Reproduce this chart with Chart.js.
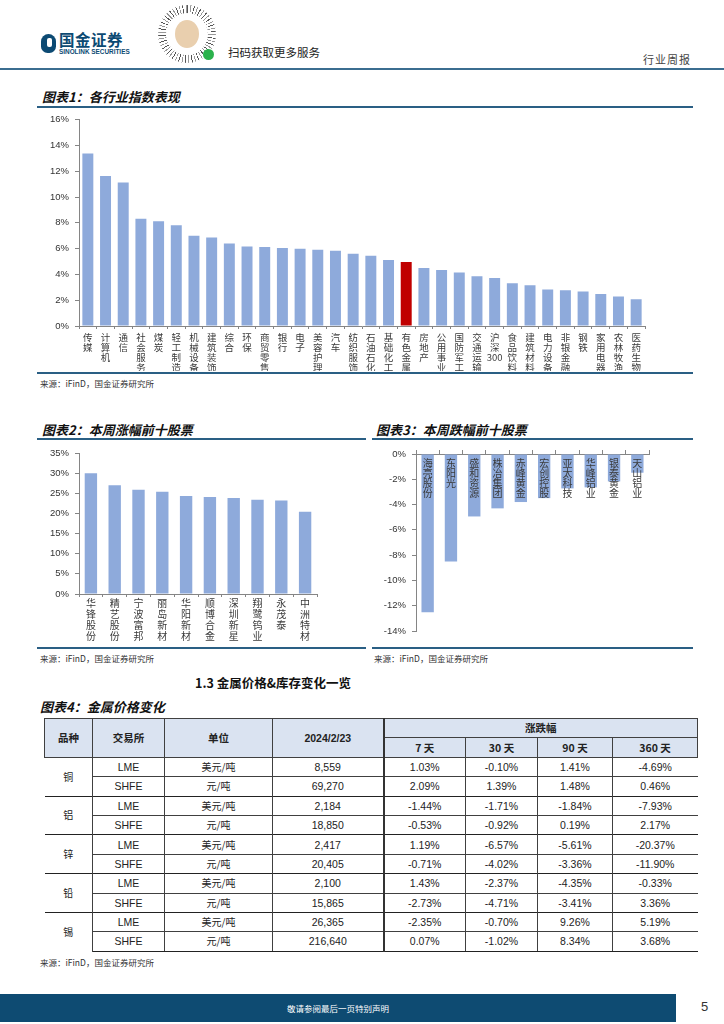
<!DOCTYPE html>
<html>
<head>
<meta charset="utf-8">
<script src="https://cdn.jsdelivr.net/npm/chart.js@4.4.1/dist/chart.umd.min.js"></script>
<style>
  body { margin: 0; width: 724px; height: 1024px; position: relative; overflow: hidden; background: #fff;
         font-family: "Liberation Sans", "Noto Sans CJK SC", sans-serif; color: #222; }
  .abs { position: absolute; }
  .title { position: absolute; font-family: "Noto Sans CJK SC", sans-serif; font-size: 13px; line-height: 14px;
           font-weight: bold; font-style: italic; color: #111; white-space: nowrap; }
  .rule { position: absolute; height: 2px; background: #2a5f84; }
  .src { position: absolute; font-family: "Noto Sans CJK SC", sans-serif; font-size: 8.5px; line-height: 10px; color: #333; white-space: nowrap; }
  canvas { position: absolute; }
  table { position: absolute; left: 44px; top: 718px; border-collapse: collapse; table-layout: fixed; }
  td { padding: 0; height: 18.4px; line-height: 12px; text-align: center; font-size: 10.5px; color: #222; white-space: nowrap;
       font-family: "Liberation Sans Narrow", "Liberation Sans", sans-serif; }
  td.cn { font-family: "Noto Sans CJK SC", sans-serif; font-size: 10px; }
  tr.h td { background: #dae3f1; font-weight: bold; border: 1px solid #404040; font-family: "Noto Sans CJK SC", sans-serif; font-size: 10.5px; }
  tr.h td.num { font-family: "Liberation Sans", sans-serif; }
  tr.d td { border-left: 1px solid #404040; border-right: 1px solid #404040; border-top: 1px solid #404040; }
  tr.d td:first-child { border-left: none; }
  tr.d td:last-child { border-right: none; }
  tr.g td { border-top: 1.6px solid #222; }
  tr.last td { border-bottom: 1.6px solid #222; }
  td.sep { border-right: 2px solid #333 !important; }
</style>
</head>
<body>

<!-- page header -->
<div class="abs" style="left:41px;top:34px;width:15px;height:19px;background:#0c4a73;border-radius:8px 8px 7px 7px;"></div>
<div class="abs" style="left:47px;top:38px;width:5px;height:9px;background:#fff;border-radius:2px;"></div>
<div class="abs" style="left:59px;top:31px;font-family:'Noto Sans CJK SC';font-weight:bold;font-size:15.5px;line-height:17px;color:#0c4a73;letter-spacing:0.5px;">国金证券</div>
<div class="abs" style="left:59px;top:48px;font-family:'Liberation Sans';font-weight:bold;font-size:6.4px;line-height:7px;color:#0c4a73;">SINOLINK SECURITIES</div>
<div class="abs" style="left:158px;top:5px;width:58px;height:58px;border-radius:50%;background:repeating-conic-gradient(#555 0deg 2deg,#fff 2deg 7deg,#999 7deg 9deg,#fff 9deg 14deg);"></div>
<div class="abs" style="left:166px;top:13px;width:42px;height:42px;border-radius:50%;background:#fff;"></div>
<div class="abs" style="left:175px;top:20px;width:24px;height:28px;border-radius:50%;background:#e9cfae;"></div>
<div class="abs" style="left:203px;top:49px;width:11px;height:11px;border-radius:50%;background:#2bb24c;"></div>
<div class="abs" style="left:228px;top:45px;font-family:'Noto Sans CJK SC';font-size:11.5px;line-height:14px;color:#222;">扫码获取更多服务</div>
<div class="abs" style="left:643px;top:52px;font-family:'Noto Sans CJK SC';font-size:11px;line-height:14px;color:#444;letter-spacing:1px;">行业周报</div>
<div class="abs" style="left:0;top:68px;width:724px;height:2px;background:#3b6d90;"></div>

<!-- figure 1 -->
<div class="title" style="left:42px;top:90px;">图表1：各行业指数表现</div>
<div class="rule" style="left:37px;top:105.5px;width:656px;"></div>
<canvas id="c1" width="656" height="263" style="left:37px;top:108px;"></canvas>
<div class="rule" style="left:37px;top:371.5px;width:656px;"></div>
<div class="src" style="left:40px;top:378px;">来源：iFinD，国金证券研究所</div>

<!-- figures 2 and 3 -->
<div class="title" style="left:42px;top:423px;">图表2：本周涨幅前十股票</div>
<div class="title" style="left:376px;top:423px;">图表3：本周跌幅前十股票</div>
<div class="rule" style="left:37px;top:438px;width:329px;"></div>
<div class="rule" style="left:372px;top:438px;width:321px;"></div>
<canvas id="c2" width="329" height="207" style="left:37px;top:440px;"></canvas>
<canvas id="c3" width="321" height="207" style="left:372px;top:440px;"></canvas>
<div class="rule" style="left:37px;top:647px;width:329px;"></div>
<div class="rule" style="left:372px;top:647px;width:321px;"></div>
<div class="src" style="left:40px;top:653px;">来源：iFinD，国金证券研究所</div>
<div class="src" style="left:374px;top:653px;">来源：iFinD，国金证券研究所</div>

<!-- section 1.3 and table -->
<div class="abs" style="left:195px;top:675px;font-family:'Noto Sans CJK SC';font-weight:bold;font-size:12.5px;line-height:16px;color:#111;">1.3 金属价格&amp;库存变化一览</div>
<div class="title" style="left:40px;top:700px;">图表4：金属价格变化</div>
<table id="tbl"></table>
<div class="src" style="left:40px;top:957px;">来源：iFinD，国金证券研究所</div>

<!-- footer -->
<div class="abs" style="left:0;top:994px;width:676px;height:28px;background:#0e4b72;"></div>
<div class="abs" style="left:0;top:1002px;width:676px;text-align:center;font-family:'Noto Sans CJK SC';font-size:8.5px;line-height:12px;color:#fff;">敬请参阅最后一页特别声明</div>
<div class="abs" style="left:701px;top:999px;font-family:'Liberation Sans';font-size:13px;line-height:16px;color:#333;">5</div>

<script>
// ---- figure 1: industry index performance (%)
const industryNames = ['传媒', '计算机', '通信', '社会服务', '煤炭', '轻工制造', '机械设备', '建筑装饰',
  '综合', '环保', '商贸零售', '银行', '电子', '美容护理', '汽车', '纺织服饰', '石油石化', '基础化工',
  '有色金属', '房地产', '公用事业', '国防军工', '交通运输', '沪深300', '食品饮料', '建筑材料',
  '电力设备', '非银金融', '钢铁', '家用电器', '农林牧渔', '医药生物'];
const industryValues = [13.38, 11.63, 11.13, 8.32, 8.12, 7.82, 6.99, 6.87,
  6.39, 6.17, 6.12, 6.04, 5.99, 5.91, 5.84, 5.61, 5.44, 5.11,
  4.96, 4.49, 4.34, 4.14, 3.86, 3.73, 3.31, 3.16,
  2.83, 2.78, 2.68, 2.48, 2.28, 2.08];
const highlightName = '有色金属';

// ---- figure 2: top 10 gainers this week (%)
const gainerNames = ['华锋股份', '精艺股份', '宁波富邦', '丽岛新材', '华阳新材', '顺博合金', '深圳新星', '翔鹭钨业', '永茂泰', '中洲特材'];
const gainerValues = [30.0, 27.0, 25.85, 25.4, 24.35, 24.1, 23.85, 23.4, 23.2, 20.4];

// ---- figure 3: top 10 losers this week (%)
const loserNames = ['海亮股份', '东阳光', '盛和资源', '株冶集团', '赤峰黄金', '宏创控股', '亚太科技', '华峰铝业', '银泰黄金', '天山铝业'];
const loserValues = [-12.52, -8.5, -4.94, -4.3, -3.8, -3.49, -2.72, -2.64, -2.17, -1.48];

// ---- figure 4: metal prices table
const metals = ['铜', '铝', '锌', '铅', '锡'];
const exchanges = ['LME', 'SHFE'];
const units = ['美元/吨', '元/吨'];
const priceDate = '2024/2/23';
const periods = ['7 天', '30 天', '90 天', '360 天'];
const prices = ['8,559', '69,270', '2,184', '18,850', '2,417', '20,405', '2,100', '15,865', '26,365', '216,640'];
const chg7 = ['1.03%', '2.09%', '-1.44%', '-0.53%', '1.19%', '-0.71%', '1.43%', '-2.73%', '-2.35%', '0.07%'];
const chg30 = ['-0.10%', '1.39%', '-1.71%', '-0.92%', '-6.57%', '-4.02%', '-2.37%', '-4.71%', '-0.70%', '-1.02%'];
const chg90 = ['1.41%', '1.48%', '-1.84%', '0.19%', '-5.61%', '-3.36%', '-4.35%', '-3.41%', '9.26%', '8.34%'];
const chg360 = ['-4.69%', '0.46%', '-7.93%', '2.17%', '-20.37%', '-11.90%', '-0.33%', '3.36%', '5.19%', '3.68%'];

const BLUE = '#8eaadb';
const RED = '#c00000';
const AXIS = '#858585';
const LABEL = '#3a3a3a';
const CJK = '"Noto Sans CJK SC", sans-serif';
const SANS = '"Liberation Sans", sans-serif';

// vertical labels: one character per line
function splitLabel(name) {
  if (name === '沪深300') return ['沪', '深', '300'];
  return Array.from(name);
}

function yAxis(min, max, step, width) {
  return {
    min: min, max: max,
    ticks: { stepSize: step, callback: v => v + '%', padding: 6, color: '#333', font: { family: SANS, size: 9.5 } },
    grid: { drawOnChartArea: false, tickLength: 4, color: AXIS },
    border: { color: AXIS },
    afterFit: s => { s.width = width; }
  };
}

function xAxisBottom(size, lineHeight, padding, height) {
  return {
    grid: { drawOnChartArea: false, tickLength: 3, color: AXIS },
    border: { color: AXIS },
    ticks: { autoSkip: false, maxRotation: 0, minRotation: 0, padding: padding, color: LABEL,
             font: { family: CJK, size: size, lineHeight: lineHeight } },
    afterFit: s => { s.height = height; }
  };
}

const baseOptions = {
  responsive: false,
  animation: false,
  plugins: { legend: { display: false }, tooltip: { enabled: false } }
};

// figure 1
new Chart(document.getElementById('c1'), {
  type: 'bar',
  data: {
    labels: industryNames.map(splitLabel),
    datasets: [{
      data: industryValues,
      backgroundColor: industryNames.map(n => n === highlightName ? RED : BLUE),
      barPercentage: 0.62,
      categoryPercentage: 1
    }]
  },
  options: {
    ...baseOptions,
    layout: { padding: { top: 5, right: 48, left: 0, bottom: 0 } },
    scales: {
      x: xAxisBottom(9.5, 1.05, 3, 45),
      y: yAxis(0, 16, 2, 42)
    }
  }
});

// figure 2
new Chart(document.getElementById('c2'), {
  type: 'bar',
  data: {
    labels: gainerNames.map(splitLabel),
    datasets: [{ data: gainerValues, backgroundColor: BLUE, barPercentage: 0.52, categoryPercentage: 1 }]
  },
  options: {
    ...baseOptions,
    layout: { padding: { top: 13, right: 49, left: 0, bottom: 0 } },
    scales: {
      x: xAxisBottom(10, 1.1, 0.5, 53),
      y: yAxis(0, 35, 5, 42)
    }
  }
});

// figure 3: axis on top, names written inside the bars
new Chart(document.getElementById('c3'), {
  type: 'bar',
  data: {
    labels: loserNames.map(splitLabel),
    datasets: [{ data: loserValues, backgroundColor: BLUE, barPercentage: 0.53, categoryPercentage: 1 }]
  },
  options: {
    ...baseOptions,
    layout: { padding: { top: 4, right: 44, left: 0, bottom: 16 } },
    scales: {
      x: {
        position: 'top',
        grid: { drawOnChartArea: false, tickLength: 4, color: AXIS },
        border: { color: AXIS },
        ticks: { z: 1, autoSkip: false, maxRotation: 0, minRotation: 0, mirror: true, crossAlign: 'far', padding: -26,
                 showLabelBackdrop: false, color: LABEL, font: { family: CJK, size: 10, lineHeight: 1 } },
        afterFit: s => { s.height = 10; }
      },
      y: yAxis(-14, 0, 2, 44)
    }
  }
});

// table
const tbl = document.getElementById('tbl');
const colWidths = [48, 72, 108, 111, 82, 72, 75, 85];
let html = '<colgroup>' + colWidths.map(w => '<col style="width:' + w + 'px">').join('') + '</colgroup>';
html += '<tr class="h"><td rowspan="2">品种</td><td rowspan="2">交易所</td><td rowspan="2">单位</td>' +
        '<td rowspan="2" class="num sep">' + priceDate + '</td><td colspan="4">涨跌幅</td></tr>';
html += '<tr class="h">' + periods.map(p => '<td>' + p + '</td>').join('') + '</tr>';
metals.forEach((m, mi) => {
  exchanges.forEach((ex, ei) => {
    const r = mi * 2 + ei;
    let cls = 'd' + (ei === 0 ? ' g' : '') + (r === prices.length - 1 ? ' last' : '');
    html += '<tr class="' + cls + '">';
    if (ei === 0) html += '<td rowspan="2" class="cn">' + m + '</td>';
    html += '<td>' + ex + '</td><td class="cn">' + units[ei] + '</td><td class="sep">' + prices[r] + '</td>' +
            '<td>' + chg7[r] + '</td><td>' + chg30[r] + '</td><td>' + chg90[r] + '</td><td>' + chg360[r] + '</td></tr>';
  });
});
tbl.innerHTML = html;
</script>
</body>
</html>
